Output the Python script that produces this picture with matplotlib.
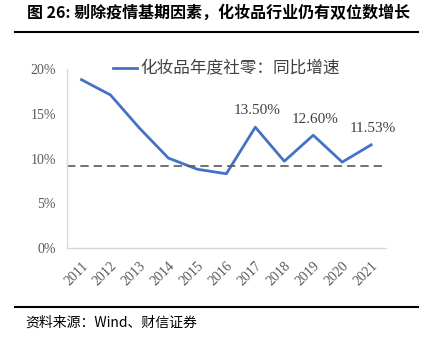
import matplotlib.pyplot as plt
from matplotlib.lines import Line2D

plt.rcParams['font.family'] = ['Noto Sans CJK SC', 'DejaVu Sans']

# data
years = ['2011', '2012', '2013', '2014', '2015', '2016', '2017', '2018', '2019', '2020', '2021']
growth = [18.8, 17.1, 13.4, 10.05, 8.8, 8.3, 13.5, 9.7, 12.6, 9.6, 11.53]
ref_level = 9.2
labels = {6: '13.50%', 8: '12.60%', 10: '11.53%'}
yticks = [0, 5, 10, 15, 20]

fig = plt.figure(figsize=(4.33, 3.38), dpi=100)
ax = fig.add_axes([0.1547, 0.266, 0.736, 0.530])

blue = '#4472C4'
x = list(range(len(years)))
ax.plot(x, growth, color=blue, lw=2, label='化妆品年度社零：同比增速')
ax.axhline(ref_level, color='#595959', lw=1.2, ls=(0, (5, 3)))

for i, t in labels.items():
    ax.annotate(t, (x[i], growth[i]), xytext=(1, 7), textcoords='offset points',
                ha='center', va='bottom', fontsize=11, color='#404040',
                family='Liberation Serif')

ax.set_xlim(-0.5, len(years) - 0.5)
ax.set_ylim(0, 20)
ax.set_yticks(yticks)
ax.set_yticklabels([f'{v}%' for v in yticks], family='Liberation Serif')
ax.set_xticks(x)
ax.set_xticklabels(years, rotation=45, ha='right', rotation_mode='anchor',
                   family='Liberation Serif')
ax.tick_params(axis='both', length=0, labelsize=10, labelcolor='#595959', pad=8)
for s in ['top', 'right']:
    ax.spines[s].set_visible(False)
for s in ['left', 'bottom']:
    ax.spines[s].set_color('#D9D9D9')
    ax.spines[s].set_linewidth(1)

ax.legend(loc='upper center', bbox_to_anchor=(0.5, 1.13), frameon=False, fontsize=12,
          handlelength=1.4, handletextpad=0.2, labelcolor='#404040')

fig.text(0.062, 0.962, '图 26: 剔除疫情基期因素，化妆品行业仍有双位数增长', fontsize=11.5,
         weight='bold', va='center', ha='left')
fig.add_artist(Line2D([0.035, 0.965], [0.905, 0.905], color='black', lw=1.5))
fig.add_artist(Line2D([0.035, 0.965], [0.092, 0.092], color='black', lw=1.5))
fig.text(0.058, 0.045, '资料来源：Wind、财信证券', fontsize=10, style='italic', va='center')

fig.savefig('out.png', dpi=100)
